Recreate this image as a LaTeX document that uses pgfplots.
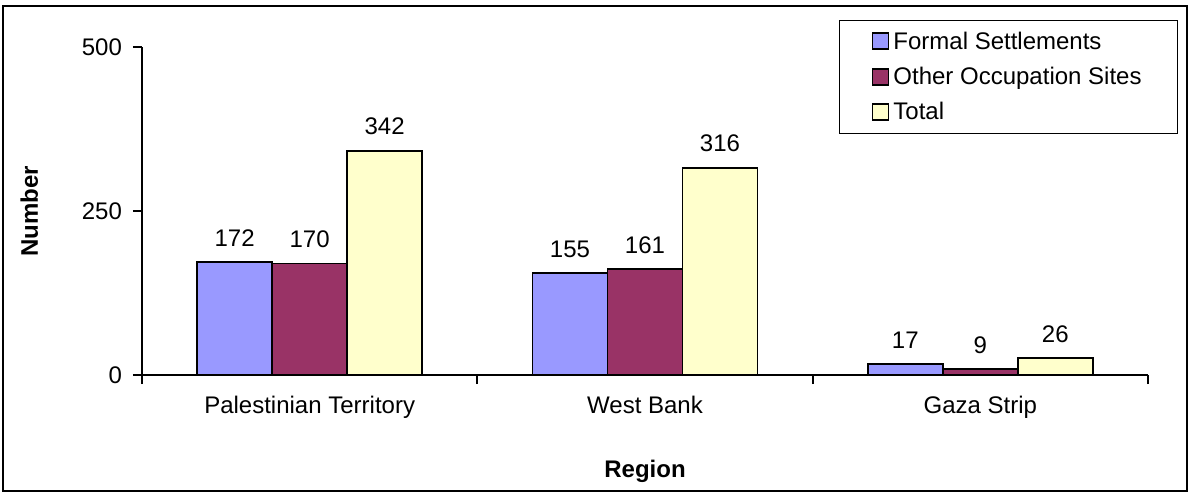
\documentclass[border=0pt]{standalone}
\usepackage{fontspec}
\setmainfont{Liberation Sans}
\usepackage{pgfplots}
\pgfplotsset{compat=1.18}
\definecolor{cA}{HTML}{9999FF}
\definecolor{cB}{HTML}{993366}
\definecolor{cC}{HTML}{FFFFCC}
\begin{document}
\begin{tikzpicture}[x=1pt,y=1pt]
\useasboundingbox (-71,-59.5) rectangle (524,187.5);
\begin{axis}[
  at={(0,0)}, anchor=south west,
  scale only axis, width=503pt, height=164pt,
  xmin=-0.5, xmax=2.5, ymin=0, ymax=500,
  axis x line*=bottom, axis y line*=left,
  axis line style={black, line width=0.9pt, -},
  ybar=0pt, bar width=37.5pt,
  xtick={0,1,2}, xticklabels={Palestinian Territory, West Bank, Gaza Strip},
  major x tick style={draw=none},
  minor xtick={-0.5,0.5,1.5,2.5},
  minor x tick style={black, line width=0.9pt},
  minor tick length=4.5pt,
  ytick={0,250,500},
  major y tick style={black, line width=0.9pt},
  major tick length=4.5pt,
  tick align=outside,
  /pgf/number format/assume math mode=true,
  ticklabel style={font=\fontsize{12}{14}\selectfont},
  xticklabel style={yshift=-2.5pt},
  yticklabel style={xshift=-2pt},
  xlabel={\textbf{Region}}, ylabel={\textbf{Number}},
  label style={font=\fontsize{12}{14}\selectfont},
  xlabel style={yshift=-14pt},
  ylabel style={yshift=15pt},
  nodes near coords,
  every node near coord/.append style={font=\fontsize{12}{14}\selectfont, black, yshift=4pt},
  legend style={at={(1.03,1.082)}, anchor=north east, draw=black, line width=0.6pt,
    font=\fontsize{12}{14}\selectfont, row sep=3.5pt, inner xsep=16pt, inner ysep=3.5pt,
    cells={anchor=west}},
  legend image code/.code={\draw[#1, line width=0.9pt] (0pt,-3.7pt) rectangle (8pt,4.3pt);},
  legend cell align=left,
]
\addplot[fill=cA, draw=black, line width=0.9pt] coordinates {(0,172) (1,155) (2,17)};
\addplot[fill=cB, draw=black, line width=0.9pt] coordinates {(0,170) (1,161) (2,9)};
\addplot[fill=cC, draw=black, line width=0.9pt] coordinates {(0,342) (1,316) (2,26)};
\legend{Formal Settlements, Other Occupation Sites, Total}
\end{axis}
\draw[black, line width=1pt] (-69.5,-58) rectangle (522.5,184.5);
\end{tikzpicture}
\end{document}
